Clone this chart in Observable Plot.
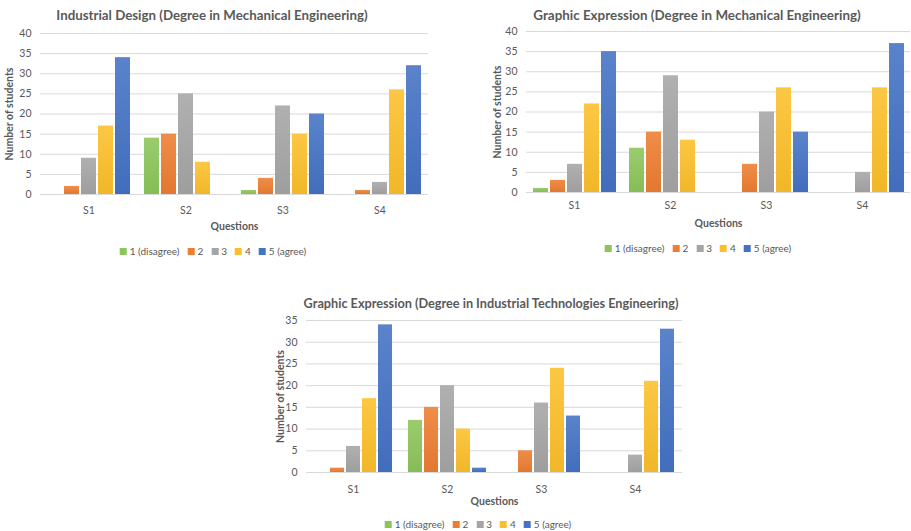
<!DOCTYPE html>
<html>
<head>
<meta charset="utf-8">
<script src="https://cdn.jsdelivr.net/npm/d3@7"></script>
<script src="https://cdn.jsdelivr.net/npm/@observablehq/plot@0.6"></script>
<style>
  html, body { margin: 0; padding: 0; background: #fff; }
  body { width: 911px; height: 531px; position: relative; overflow: hidden;
         font-family: Lato, "Open Sans", sans-serif; color: #595959; }
  .title { position: absolute; font-weight: bold; white-space: nowrap;
           transform: translate(-50%, -50%); color: #595959; }
  .legend { position: absolute; font-size: 10px; white-space: nowrap; display: flex;
            align-items: center; gap: 8px; transform: translate(-50%, -50%); color: #595959; }
  .legend span.item { display: flex; align-items: center; gap: 3px; }
  .legend span.sw { width: 7px; height: 7px; display: inline-block; }
  .chart { position: absolute; }
  .chart svg { overflow: visible; }
</style>
</head>
<body>
<script>
// Survey answers: number of students per Likert level for each question
const questions = ["S1", "S2", "S3", "S4"];
const levels = ["1 (disagree)", "2", "3", "4", "5 (agree)"];
const levelColors = ["#8cc55a", "#ed7d31", "#a5a5a5", "#fcbf2a", "#4472c4"];

// rows = questions S1..S4, columns = levels 1..5
const industrialDesignME = [
  [0, 2, 9, 17, 34],
  [14, 15, 25, 8, 0],
  [1, 4, 22, 15, 20],
  [0, 1, 3, 26, 32]
];
const graphicExpressionME = [
  [1, 3, 7, 22, 35],
  [11, 15, 29, 13, 0],
  [0, 7, 20, 26, 15],
  [0, 0, 5, 26, 37]
];
const graphicExpressionITE = [
  [0, 1, 6, 17, 34],
  [12, 15, 20, 10, 1],
  [0, 5, 16, 24, 13],
  [0, 0, 4, 21, 33]
];

const tidy = (table) => questions.flatMap((q, i) =>
  levels.map((l, j) => ({question: q, level: l, count: table[i][j]})));

// vertical gradient per level, lighter at the top of each bar
function gradientDefs(prefix) {
  return () => {
    const ns = "http://www.w3.org/2000/svg";
    const defs = document.createElementNS(ns, "defs");
    levelColors.forEach((c, i) => {
      const g = document.createElementNS(ns, "linearGradient");
      g.setAttribute("id", `${prefix}-g${i}`);
      g.setAttribute("x1", 0); g.setAttribute("y1", 0);
      g.setAttribute("x2", 0); g.setAttribute("y2", 1);
      const top = d3.interpolateRgb(c, "#fff")(0.12);
      const bottom = d3.color(c).darker(0.12).formatHex();
      [[0, top], [1, bottom]].forEach(([o, col]) => {
        const s = document.createElementNS(ns, "stop");
        s.setAttribute("offset", o);
        s.setAttribute("stop-color", col);
        g.appendChild(s);
      });
      defs.appendChild(g);
    });
    return defs;
  };
}

function addTitle(text, x, y, size) {
  const d = document.createElement("div");
  d.className = "title";
  d.textContent = text;
  d.style.left = x + "px";
  d.style.top = y + "px";
  d.style.fontSize = size + "px";
  document.body.appendChild(d);
}

function addLegend(x, y) {
  const d = document.createElement("div");
  d.className = "legend";
  d.style.left = x + "px";
  d.style.top = y + "px";
  levels.forEach((l, i) => {
    const it = document.createElement("span");
    it.className = "item";
    const sw = document.createElement("span");
    sw.className = "sw";
    sw.style.background = levelColors[i];
    const t = document.createElement("span");
    t.textContent = l;
    it.appendChild(sw); it.appendChild(t);
    d.appendChild(it);
  });
  document.body.appendChild(d);
}

function drawChart(cfg) {
  const ticks = d3.range(0, cfg.yMax + 1, 5);
  const data = tidy(cfg.table).filter(d => d.count > 0);
  const chart = Plot.plot({
    width: cfg.width,
    height: cfg.height,
    marginLeft: cfg.marginLeft,
    marginRight: cfg.marginRight,
    marginTop: cfg.marginTop,
    marginBottom: cfg.marginBottom,
    style: {fontFamily: "Lato, 'Open Sans', sans-serif", fontSize: "10.5px", color: "#595959", background: "transparent"},
    fx: {domain: questions, padding: 0},
    x: {domain: levels, paddingInner: 0.12, paddingOuter: 0.33, axis: null},
    y: {domain: [0, cfg.yMax]},
    color: {type: "ordinal", domain: levels, range: levels.map((_, i) => `url(#${cfg.id}-g${i})`)},
    marks: [
      gradientDefs(cfg.id),
      Plot.gridY(ticks, {stroke: "#d9d9d9", strokeOpacity: 1}),
      Plot.axisY(ticks, {tickSize: 0, tickPadding: 9, label: "Number of students",
        labelAnchor: "center", labelArrow: "none", labelOffset: cfg.yLabelOffset}),
      Plot.axisFx({anchor: "bottom", tickSize: 0, tickPadding: cfg.fxPadding, label: "Questions",
        labelAnchor: "center", labelArrow: "none", labelOffset: cfg.fxLabelOffset}),
      Plot.barY(data, {fx: "question", x: "level", y: "count", fill: "level"})
    ]
  });
  chart.querySelectorAll('[aria-label$="-axis label"]').forEach(g => {
    g.setAttribute("font-weight", "bold");
    g.setAttribute("font-size", "10.5");
  });
  const wrap = document.createElement("div");
  wrap.className = "chart";
  wrap.style.left = cfg.left + "px";
  wrap.style.top = cfg.top + "px";
  wrap.appendChild(chart);
  document.body.appendChild(wrap);
  addTitle(cfg.title, cfg.titleX, cfg.titleY, cfg.titleSize);
  addLegend(cfg.legendX, cfg.legendY);
}

drawChart({
  id: "c1", table: industrialDesignME, yMax: 40,
  title: "Industrial Design (Degree in Mechanical Engineering)", titleSize: 13.3,
  left: 0, top: 25, width: 430, height: 210,
  marginLeft: 40, marginRight: 2, marginTop: 8, marginBottom: 41,
  yLabelOffset: 35, fxPadding: 12, fxLabelOffset: 35,
  titleX: 212, titleY: 15, legendX: 213, legendY: 251
});

drawChart({
  id: "c2", table: graphicExpressionME, yMax: 40,
  title: "Graphic Expression (Degree in Mechanical Engineering)", titleSize: 13.4,
  left: 483, top: 23, width: 428, height: 210,
  marginLeft: 42, marginRight: 0, marginTop: 8, marginBottom: 41,
  yLabelOffset: 33, fxPadding: 9, fxLabelOffset: 34,
  titleX: 697, titleY: 15, legendX: 698, legendY: 248
});

drawChart({
  id: "c3", table: graphicExpressionITE, yMax: 35,
  title: "Graphic Expression (Degree in Industrial Technologies Engineering)", titleSize: 12.7,
  left: 268, top: 311, width: 420, height: 200,
  marginLeft: 38, marginRight: 6, marginTop: 9, marginBottom: 39,
  yLabelOffset: 30, fxPadding: 13, fxLabelOffset: 32,
  titleX: 491, titleY: 303, legendX: 478, legendY: 524
});
</script>
</body>
</html>
